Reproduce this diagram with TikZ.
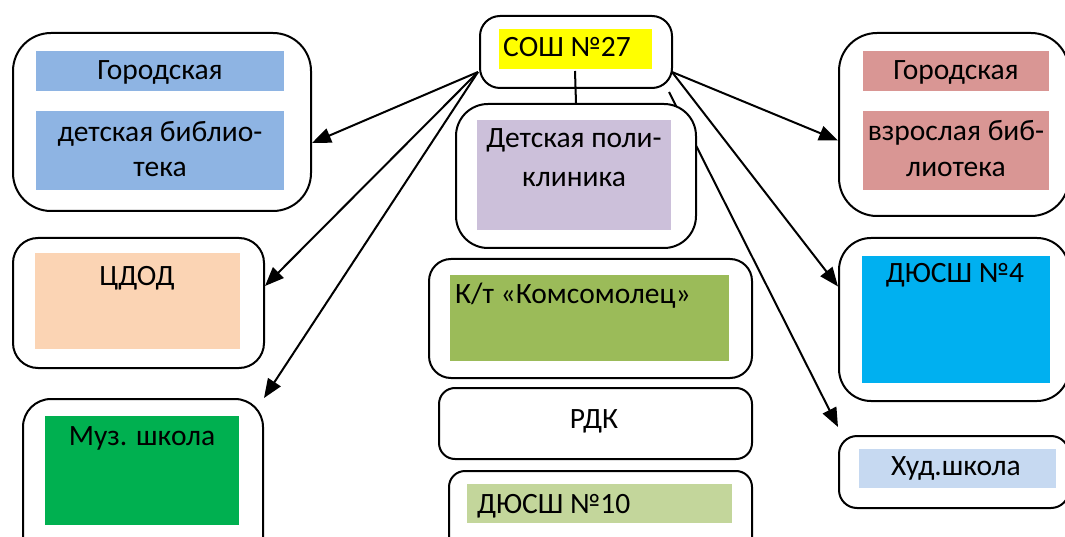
\documentclass[tikz,border=0pt]{standalone}
\usepackage{fontspec}
\setmainfont{Carlito}
\usetikzlibrary{arrows.meta}
\definecolor{cyel}{HTML}{FFFF00}
\definecolor{clil}{HTML}{CCC0DA}
\definecolor{cblu}{HTML}{8EB4E3}
\definecolor{cpea}{HTML}{FBD4B4}
\definecolor{cgrn}{HTML}{00B050}
\definecolor{colv}{HTML}{9BBB59}
\definecolor{clgr}{HTML}{C3D69B}
\definecolor{cros}{HTML}{D99694}
\definecolor{ccya}{HTML}{00B0F0}
\definecolor{clbl}{HTML}{C6D9F1}
\begin{document}
\begin{tikzpicture}[x=1pt,y=-1pt,
  frame/.style={draw, line width=2pt, fill=white, rounded corners=#1, inner sep=0pt, anchor=north west},
  band/.style={fill=#1, draw=none, inner sep=0pt, anchor=north west},
  lbl/.style={anchor=base, inner sep=0pt, font=\fontsize{29.5}{35}\selectfont},
  lbll/.style={anchor=base west, inner sep=0pt, font=\fontsize{29.5}{35}\selectfont},
  link/.style={line width=2pt},
  arr/.style={line width=2pt, -{Triangle[length=19pt,width=15pt]}}]
\useasboundingbox (0,0) rectangle (1065,537);
\clip (0,0) rectangle (1065,537);
% helper coordinates
\coordinate (sL) at (478,72);
\coordinate (sR) at (672,72);
\coordinate (sH) at (669,92);
\coordinate (sV) at (575,71);
% line to Hud passes behind polyclinic
\node[frame=18pt, minimum width=230pt, minimum height=72pt] (hud) at (838,435) {};
\draw[arr] (sH) -- ([yshift=8pt]hud.north west);
% top node
\node[frame=20pt, minimum width=192pt, minimum height=72pt] (sosh) at (479,15) {};
\node[band=cyel, minimum width=153pt, minimum height=40pt] (soshf) at (499,29) {};
\node[lbll] (soshT) at (503,57) {СОШ №27};
% polyclinic
\node[frame=32pt, minimum width=240pt, minimum height=144pt] (pol) at (455,103) {};
\node[band=clil, minimum width=194pt, minimum height=110pt] (polf) at (477,120) {};
\node[lbl] (polT1) at (574,148) {Детская поли-};
\node[lbl] (polT2) at (574,187) {клиника};
\draw[link] (sV) -- (pol.north);
% cinema
\node[frame=22pt, minimum width=323pt, minimum height=119pt] (kt) at (428,258) {};
\node[band=colv, minimum width=279pt, minimum height=86pt] (ktf) at (450,275) {};
\node[lbll] (ktT) at (455,303) {К/т «Комсомолец»};
% RDK
\node[frame=16pt, minimum width=313pt, minimum height=71pt] (rdk) at (438,387) {};
\node[lbl] (rdkT) at (594,428) {РДК};
% DYuSSh 10
\node[frame=16pt, minimum width=303pt, minimum height=90pt] (d10) at (448,470) {};
\node[band=clgr, minimum width=265pt, minimum height=39pt] (d10f) at (467,484) {};
\node[lbll] (d10T) at (477,513) {ДЮСШ №10};
% left column
\node[frame=38pt, minimum width=298pt, minimum height=178pt] (gd) at (12,32) {};
\node[band=cblu, minimum width=248pt, minimum height=40pt] (gdf1) at (36,51) {};
\node[band=cblu, minimum width=248pt, minimum height=79pt] (gdf2) at (36,111) {};
\node[lbl] (gdT1) at (160,80) {Городская};
\node[lbl] (gdT2) at (160,142) {детская библио-};
\node[lbl] (gdT3) at (160,177) {тека};
\node[frame=25pt, minimum width=251pt, minimum height=130pt] (cdod) at (12,237) {};
\node[band=cpea, minimum width=205pt, minimum height=96pt] (cdodf) at (35,253) {};
\node[lbl] (cdodT) at (137,285) {ЦДОД};
\node[frame=28pt, minimum width=240pt, minimum height=172pt] (muz) at (22,398) {};
\node[band=cgrn, minimum width=194pt, minimum height=109pt] (muzf) at (45,416) {};
\node[lbl] (muzT) at (142,445) {Муз. школа};
% right column
\node[frame=38pt, minimum width=230pt, minimum height=183pt] (gv) at (838,32) {};
\node[band=cros, minimum width=186pt, minimum height=40pt] (gvf1) at (863,51) {};
\node[band=cros, minimum width=186pt, minimum height=79pt] (gvf2) at (863,111) {};
\node[lbl] (gvT1) at (956,80) {Городская};
\node[lbl] (gvT2) at (956,141) {взрослая биб-};
\node[lbl] (gvT3) at (956,177) {лиотека};
\node[frame=32pt, minimum width=230pt, minimum height=163pt] (d4) at (838,237) {};
\node[band=ccya, minimum width=188pt, minimum height=127pt] (d4f) at (862,256) {};
\node[lbl] (d4T) at (955,283) {ДЮСШ №4};
\node[band=clbl, minimum width=197pt, minimum height=39pt] (hudf) at (859,449) {};
\node[lbl] (hudT) at (956,475) {Худ.школа};
% arrows
\draw[arr] (sL) -- ([yshift=-21pt]gd.east);
\draw[arr] (sL) -- ([yshift=17pt]cdod.east);
\draw[arr] (sL) -- (muz.north east);
\draw[arr] (sR) -- ([yshift=-16pt]gv.west);
\draw[arr] (sR) -- ([yshift=33pt]d4.west);
\end{tikzpicture}
\end{document}
